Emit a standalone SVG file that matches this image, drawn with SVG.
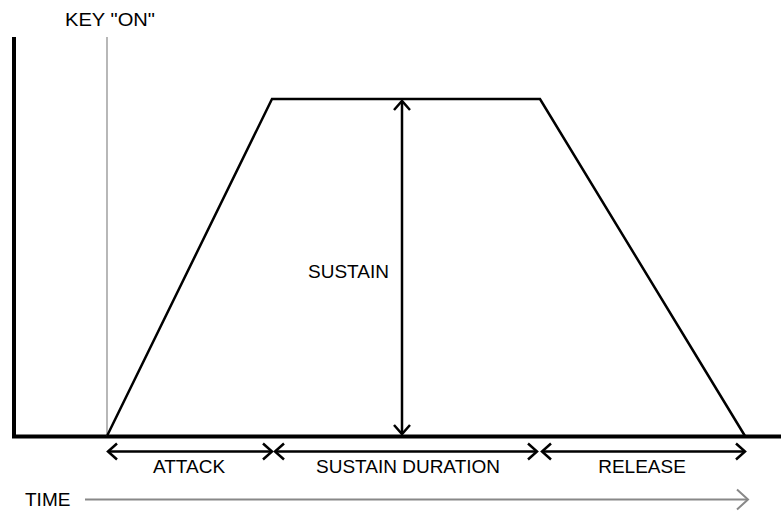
<svg xmlns="http://www.w3.org/2000/svg" width="781" height="511" viewBox="0 0 781 511">
<style>
text{font-family:"Liberation Sans",Arial,sans-serif;font-size:19px;fill:#000}
.blk{stroke:#000;fill:none;stroke-linecap:butt}
.arr{stroke:#000;stroke-width:2.5;fill:none;marker-start:url(#hs);marker-end:url(#he)}
</style>
<defs>
<marker id="he" viewBox="0 0 12 20" refX="10" refY="10" markerWidth="12" markerHeight="20" markerUnits="userSpaceOnUse" orient="auto">
<path d="M1,2 L10,10 L1,18" fill="none" stroke="#000" stroke-width="2.5"/>
</marker>
<marker id="hs" viewBox="0 0 12 20" refX="2" refY="10" markerWidth="12" markerHeight="20" markerUnits="userSpaceOnUse" orient="auto">
<path d="M11,2 L2,10 L11,18" fill="none" stroke="#000" stroke-width="2.5"/>
</marker>
<marker id="hg" viewBox="0 0 14 24" refX="12" refY="12" markerWidth="14" markerHeight="24" markerUnits="userSpaceOnUse" orient="auto">
<path d="M1,2 L12,12 L1,22" fill="none" stroke="#888" stroke-width="2"/>
</marker>
</defs>
<rect width="781" height="511" fill="#fff"/>
<g id="axes">
<line class="blk" x1="14" y1="37" x2="14" y2="438" stroke-width="4"/>
<line class="blk" x1="12" y1="436.5" x2="781" y2="436.5" stroke-width="4"/>
</g>
<g id="key-on">
<line x1="107" y1="37" x2="107" y2="436" stroke="#888" stroke-width="1.2"/>
<text x="65" y="26" textLength="90" lengthAdjust="spacingAndGlyphs">KEY "ON"</text>
</g>
<g id="envelope">
<polyline class="blk" stroke-width="2.5" stroke-linejoin="miter" points="107,436 272,99 540,99 745,436"/>
</g>
<g id="connectors">
<line class="arr" x1="402" y1="101" x2="402" y2="434"/>
<line class="arr" x1="108" y1="451.5" x2="272" y2="451.5"/>
<line class="arr" x1="275" y1="451.5" x2="537" y2="451.5"/>
<line class="arr" x1="542" y1="451.5" x2="745" y2="451.5"/>
<line x1="85" y1="499.5" x2="748" y2="499.5" stroke="#888" stroke-width="2" marker-end="url(#hg)"/>
</g>
<g id="labels">
<text x="348.5" y="278" text-anchor="middle">SUSTAIN</text>
<text x="189" y="473" text-anchor="middle">ATTACK</text>
<text x="408" y="473" text-anchor="middle">SUSTAIN DURATION</text>
<text x="642" y="473" text-anchor="middle">RELEASE</text>
<text x="25" y="506">TIME</text>
</g>
</svg>
